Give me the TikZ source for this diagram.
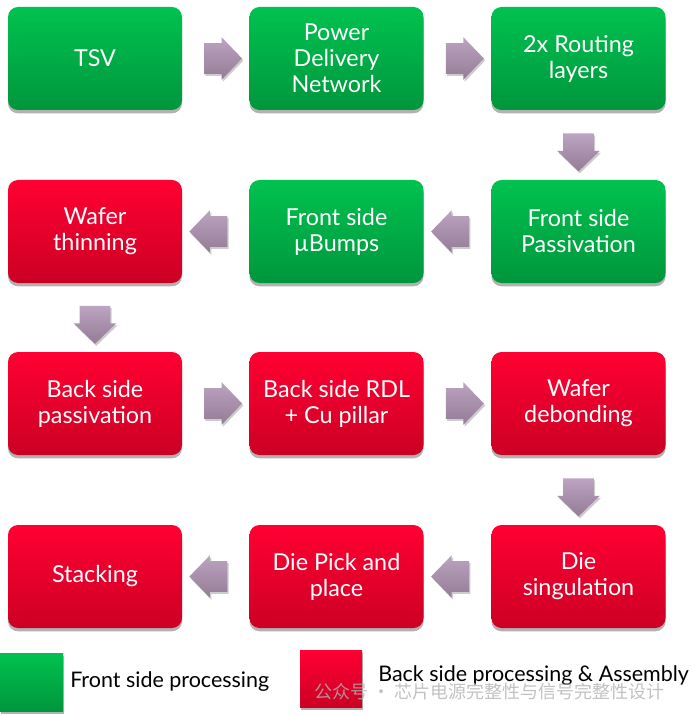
\documentclass[tikz,border=0pt]{standalone}
\usepackage{fontspec}
\setmainfont{Lato}
\newfontfamily\cjk{Noto Sans CJK SC}
\usetikzlibrary{shapes.arrows,shadows,calc}
\definecolor{gtop}{RGB}{0,194,80}
\definecolor{gbot}{RGB}{0,150,60}
\definecolor{rtop}{RGB}{255,0,50}
\definecolor{rbot}{RGB}{204,0,36}
\definecolor{atop}{RGB}{188,164,194}
\definecolor{abot}{RGB}{148,124,150}
\begin{document}
\begin{tikzpicture}[x=0.75pt,y=-0.75pt,
  box/.style={rounded corners=7.5pt, minimum width=130.5pt, minimum height=77.25pt,
    text=white, align=center, font=\fontsize{17.5}{19.5}\selectfont,
    drop shadow={shadow xshift=0pt, shadow yshift=-2.5pt, opacity=0.3, fill=black}},
  fs/.style={box, top color=gtop, bottom color=gbot},
  bs/.style={box, top color=rtop, bottom color=rbot},
  barrow/.style={single arrow, draw=none, top color=atop, bottom color=abot,
    minimum height=28.5pt, minimum width=31.5pt, inner xsep=0pt, inner ysep=11.25pt,
    single arrow head extend=4.5pt, single arrow tip angle=92,
    drop shadow={shadow xshift=1pt, shadow yshift=-1.5pt, opacity=0.2, fill=black}},
  varrow/.style={barrow, shape border rotate=270, inner xsep=11.25pt, inner ysep=0pt},
  legsq/.style={draw=none, drop shadow={shadow xshift=1pt, shadow yshift=-2pt, opacity=0.3, fill=black}},
  legtxt/.style={anchor=west, inner sep=0pt, font=\fontsize{16.1}{18}\selectfont}
]
\useasboundingbox (0,0) rectangle (691,716);

\node[fs] (tsv) at (95,58.5) {TSV};
\node[fs] (pdn) at (336.5,58.5) {Power\\Delivery\\Network};
\node[fs] (rout) at (578.5,58.5) {2x Routing\\layers};
\node[fs] (fpas) at (578.5,231.5) {Front side\\Passivation};
\node[fs] (fbump) at (336.5,231.5) {Front side\\µBumps};
\node[bs] (thin) at (95,231.5) {Wafer\\thinning};
\node[bs] (bpas) at (95,403.5) {Back side\\passivation};
\node[bs] (rdl) at (336.5,403.5) {Back side RDL\\+ Cu pillar};
\node[bs] (deb) at (578.5,403.5) {Wafer\\debonding};
\node[bs] (sing) at (578.5,576.5) {Die\\singulation};
\node[bs] (pick) at (336.5,576.5) {Die Pick and\\place};
\node[bs] (stack) at (95,576.5) {Stacking};

\node[barrow] (a1) at ($(tsv.east)!0.5!(pdn.west)$) {};
\node[barrow] (a2) at ($(pdn.east)!0.5!(rout.west)$) {};
\node[varrow] (a3) at ($(rout.south)!0.5!(fpas.north)$) {};
\node[barrow, shape border rotate=180] (a4) at ($(fpas.west)!0.5!(fbump.east)$) {};
\node[barrow, shape border rotate=180] (a5) at ($(fbump.west)!0.5!(thin.east)$) {};
\node[varrow] (a6) at ($(thin.south)!0.5!(bpas.north)$) {};
\node[barrow] (a7) at ($(bpas.east)!0.5!(rdl.west)$) {};
\node[barrow] (a8) at ($(rdl.east)!0.5!(deb.west)$) {};
\node[varrow] (a9) at ($(deb.south)!0.5!(sing.north)$) {};
\node[barrow, shape border rotate=180] (a10) at ($(sing.west)!0.5!(pick.east)$) {};
\node[barrow, shape border rotate=180] (a11) at ($(pick.west)!0.5!(stack.east)$) {};

\path[legsq, top color=gtop, bottom color=gbot] (0,653) rectangle (63,711);
\node[legtxt] (lf) at (70,682) {Front side processing};
\path[legsq, top color=rtop, bottom color=rbot] (300,650) rectangle (362,707);
\node[legtxt] (lb) at (378,676) {Back side processing \& Assembly};

\node[anchor=west, inner sep=0pt, text=black!30, opacity=0.8, font=\cjk\fontsize{13.5}{16}\selectfont] (wm) at (314,692) {公众号 · 芯片电源完整性与信号完整性设计};
\end{tikzpicture}
\end{document}
